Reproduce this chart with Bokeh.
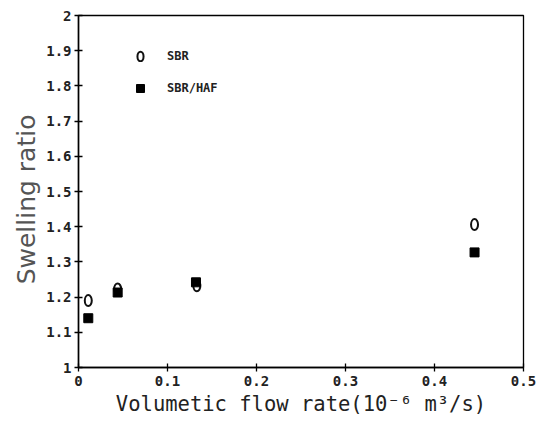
from bokeh.plotting import figure
from bokeh.models import FixedTicker, CustomJSTickFormatter, Legend, LegendItem, ColumnDataSource
from bokeh.embed import file_html
from bokeh.resources import INLINE

# Data
sbr_x = [0.011, 0.044, 0.133, 0.445]
sbr_y = [1.19, 1.223, 1.232, 1.406]
haf_x = [0.011, 0.044, 0.132, 0.445]
haf_y = [1.14, 1.213, 1.242, 1.327]

x_ticks = [0, 0.1, 0.2, 0.3, 0.4, 0.5]
y_ticks = [1, 1.1, 1.2, 1.3, 1.4, 1.5, 1.6, 1.7, 1.8, 1.9, 2]

x_label = "Volumetic flow rate(10\u207b\u2076 m\u00b3/s)"
y_label = "Swelling ratio\u00a0\u00a0"

p = figure(width=541, height=421, x_range=(0, 0.5), y_range=(1, 2),
           output_backend="svg", toolbar_location=None,
           min_border_left=78, min_border_right=18, min_border_top=15, min_border_bottom=54)

p.xgrid.visible = False
p.ygrid.visible = False
p.outline_line_color = "black"
p.outline_line_width = 1.3
p.background_fill_color = "white"
p.border_fill_color = "white"

mono = "DejaVu Sans Mono"
fmt = CustomJSTickFormatter(code="return tick.toFixed(1).replace(/\\.0$/, '');")

for ax, ticks in ((p.xaxis[0], x_ticks), (p.yaxis[0], y_ticks)):
    ax.ticker = FixedTicker(ticks=ticks)
    ax.formatter = fmt
    ax.minor_tick_line_color = None
    ax.major_tick_in = 4
    ax.major_tick_out = 4
    ax.major_tick_line_width = 1.3
    ax.axis_line_width = 1.5
    ax.axis_line_color = "black"
    ax.major_label_text_font = mono
    ax.major_label_text_font_style = "bold"
    ax.major_label_text_font_size = "14px"
    ax.major_label_text_color = "#222222"

p.xaxis.major_label_standoff = 4
p.yaxis.major_label_standoff = 3

p.xaxis.axis_label = x_label
p.xaxis.axis_label_text_font = mono
p.xaxis.axis_label_text_font_style = "normal"
p.xaxis.axis_label_text_font_size = "20.5px"
p.xaxis.axis_label_text_color = "#222222"
p.xaxis.axis_label_standoff = 3

p.yaxis.axis_label = y_label
p.yaxis.axis_label_text_font = "DejaVu Sans"
p.yaxis.axis_label_text_font_style = "normal"
p.yaxis.axis_label_text_font_size = "25px"
p.yaxis.axis_label_text_color = "#555555"
p.yaxis.axis_label_standoff = 2

src_sbr = ColumnDataSource(dict(x=sbr_x, y=sbr_y))
src_haf = ColumnDataSource(dict(x=haf_x, y=haf_y))

r_sbr = p.ellipse(x="x", y="y", width=7, height=11, width_units="screen", height_units="screen",
                  source=src_sbr, fill_color=None, line_color="#111111", line_width=2)
r_haf = p.scatter(x="x", y="y", source=src_haf, marker="square", size=9,
                  fill_color="black", line_color="black")

common = dict(orientation="vertical", padding=0, margin=0,
              label_text_font=mono, label_text_font_style="bold",
              label_text_font_size="12px", label_text_color="#222222",
              background_fill_alpha=0, border_line_color=None)

legend1 = Legend(items=[LegendItem(label="SBR", renderers=[r_sbr])],
                 location=(56, 304), glyph_width=12, glyph_height=12, label_height=12,
                 label_standoff=21, **common)
legend2 = Legend(items=[LegendItem(label="SBR/HAF", renderers=[r_haf])],
                 location=(52, 269), glyph_width=20, glyph_height=20, label_height=20,
                 label_standoff=17, **common)
p.add_layout(legend1, "center")
p.add_layout(legend2, "center")

open("out.html", "w").write(file_html(p, INLINE))
